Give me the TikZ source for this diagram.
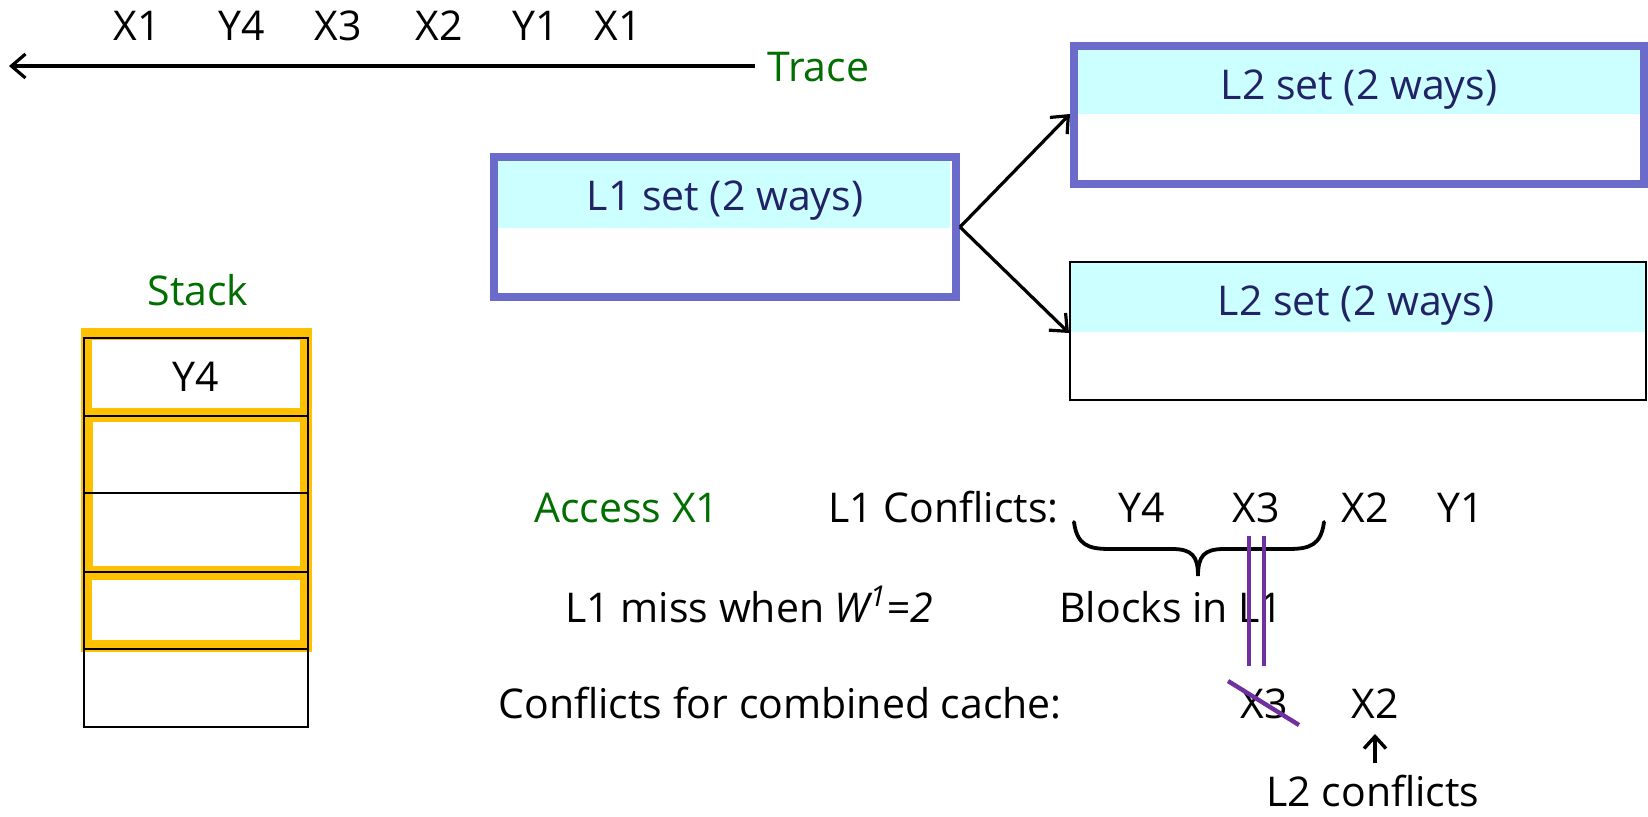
\documentclass[tikz,border=0pt]{standalone}
\usepackage{fontspec}
\setmainfont{Open Sans}
\usetikzlibrary{arrows.meta}
\definecolor{boxpurple}{RGB}{107,107,204}
\definecolor{bandcyan}{RGB}{204,255,255}
\definecolor{navytext}{RGB}{34,34,102}
\definecolor{greentext}{RGB}{0,110,0}
\definecolor{stackorange}{RGB}{255,192,0}
\definecolor{strikepurple}{RGB}{112,48,160}
\tikzset{
  txt/.style={inner sep=0pt, anchor=base, text=black},
  txtw/.style={inner sep=0pt, anchor=base west, text=black},
  greenlbl/.style={text=greentext},
  bandlbl/.style={inner sep=0pt, anchor=base, text=navytext},
  conn/.style={line width=1.6pt, -{Straight Barb[length=7pt,width=12pt,line width=1.6pt]}},
  purpleline/.style={draw=strikepurple, line width=2.2pt},
  gridline/.style={draw=black, line width=1pt},
}
\begin{document}
\begin{tikzpicture}[x=0.5pt,y=-0.5pt, font=\fontsize{20.5}{24}\selectfont]
\useasboundingbox (0,0) rectangle (1648,816);

% ---------- trace ----------
\node[txt] (t1) at (137,40) {X1};
\node[txt] (t2) at (242,40) {Y4};
\node[txt] (t3) at (338,40) {X3};
\node[txt] (t4) at (439,40) {X2};
\node[txt] (t5) at (536,40) {Y1};
\node[txt] (t6) at (618,40) {X1};
\node[txtw, greenlbl] (trace) at (767,81) {Trace};
\coordinate (traceend) at (9,66);
\draw[conn] (trace.west |- traceend) ++(-12,0) coordinate (tracestart) -- (traceend);

% ---------- L1 box ----------
\fill[bandcyan] (498,161) rectangle (950,228);
\node[draw=boxpurple, line width=4pt, minimum width=231pt, minimum height=70pt, inner sep=0pt, outer sep=2pt] (l1) at (725,227) {};
\node[bandlbl] (l1t) at (725,210) {L1 set (2 ways)};

% ---------- L2 boxes ----------
\fill[bandcyan] (1078,50) rectangle (1648,114);
\node[draw=boxpurple, line width=4pt, minimum width=285pt, minimum height=69pt, inner sep=0pt] (l2a) at (1359,115) {};
\node[bandlbl] (l2at) at (1359,99) {L2 set (2 ways)};

\fill[bandcyan] (1070,262) rectangle (1646,332);
\node[draw=black, line width=1pt, minimum width=288pt, minimum height=69pt, inner sep=0pt] (l2b) at (1358,331) {};
\node[bandlbl] (l2bt) at (1356,315) {L2 set (2 ways)};

\coordinate (l2ain) at (l2a.west |- 0,114);
\coordinate (l2bin) at (l2b.west |- 0,333);
\draw[conn] (l1.east) -- (l2ain);
\draw[conn] (l1.east) -- (l2bin);

% ---------- stack ----------
\node[txt, greenlbl] (stack) at (198,305) {Stack};
\fill[stackorange] (81,328) rectangle (312,652);
\fill[white] (92,340) rectangle (300,408);
\fill[white] (93,422) rectangle (300,567);
\fill[white] (92,579) rectangle (300,640);
\fill[stackorange] (81,410) rectangle (312,422);
\fill[stackorange] (81,566) rectangle (312,580);
\draw[gridline] (84,338) rectangle (308,727);
\foreach \yy in {416,493,572,649} { \draw[gridline] (84,\yy) -- (308,\yy); }
\node[txt] (y4) at (196,391) {Y4};

% ---------- access analysis ----------
\node[txtw, greenlbl] (access) at (534,522) {Access X1};
\node[txtw] (l1c) at (828,522) {L1 Conflicts:};
\node[txt] (cy4) at (1142,522) {Y4};
\node[txt] (cx3) at (1256,522) {X3};
\node[txt] (cx2) at (1365,522) {X2};
\node[txt] (cy1) at (1461,522) {Y1};

\draw[line width=1.9pt, line cap=round]
  (1074,522) .. controls (1077,545) and (1088,549) .. (1110,549)
  -- (1172,549) .. controls (1192,549) and (1198,556) .. (1198,576)
  .. controls (1198,556) and (1204,549) .. (1224,549)
  -- (1288,549) .. controls (1310,549) and (1321,545) .. (1324,522);

\node[txtw] (miss) at (565,622) {L1 miss when \textit{W\textsuperscript{1}=2}};
\node[txtw] (blocks) at (1059,622) {Blocks in L1};

\node[txtw] (comb) at (498,718) {Conflicts for combined cache:};
\node[txt] (bx3) at (1264,718) {X3};
\node[txt] (bx2) at (1375,718) {X2};
\node[txt] (l2c) at (1373,806) {L2 conflicts};

\draw[purpleline] (1249,536) -- (1249,666);
\draw[purpleline] (1264,536) -- (1264,666);
\draw[purpleline] (1228,681) -- (1299,725);

\coordinate (arrtail) at (1375,763);
\draw[line width=1.7pt, -{Straight Barb[length=6pt,width=11pt,line width=1.7pt]}] (arrtail) -- (bx2.south |- 0,734);
\end{tikzpicture}
\end{document}
